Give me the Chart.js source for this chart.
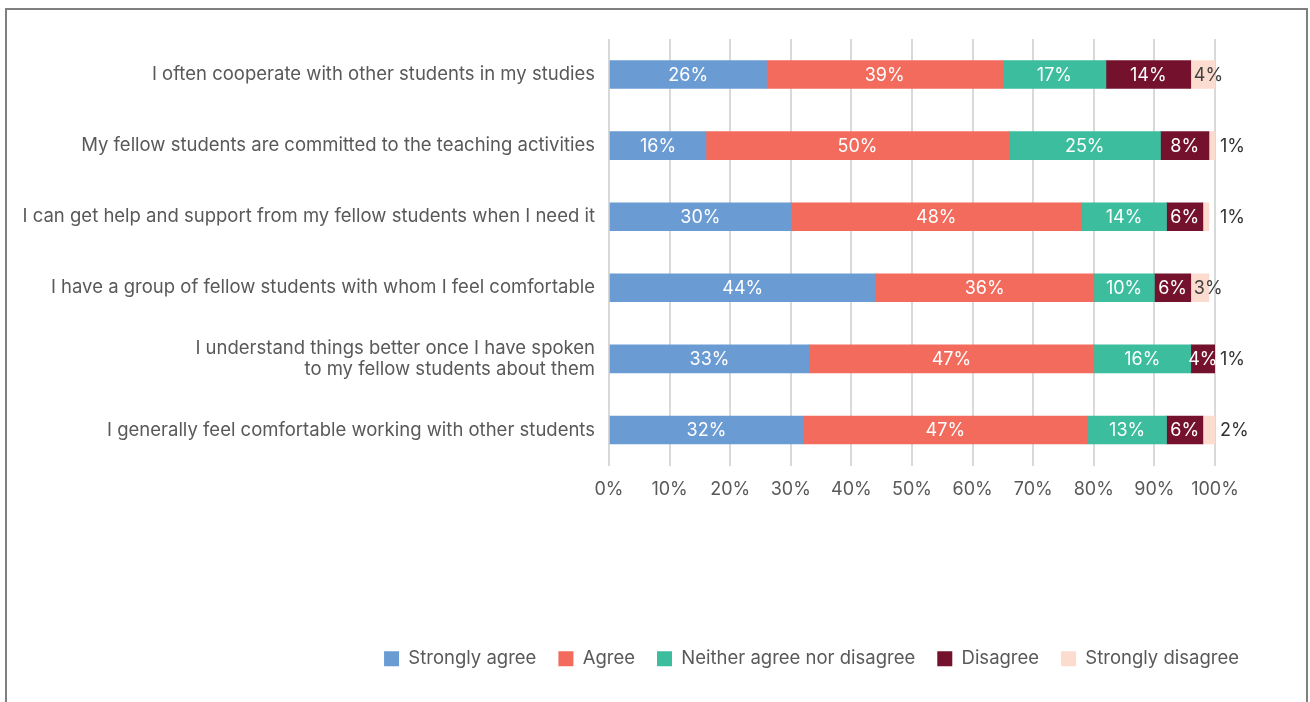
<!DOCTYPE html>
<html>
<head>
<meta charset="utf-8">
<script src="https://cdn.jsdelivr.net/npm/chart.js@4.4.1/dist/chart.umd.min.js"></script>
<style>
  html, body { margin: 0; padding: 0; background: #ffffff; }
  #wrap { position: relative; width: 1310px; height: 702px; overflow: hidden; }
  #wrap canvas { position: absolute; left: 0; top: 0; }
  #frame {
    position: absolute; left: 5px; top: 8px; width: 1299px; height: 720px;
    border: 2px solid #7f7f7f; border-bottom: none; pointer-events: none;
  }
</style>
</head>
<body>
<div id="wrap">
  <canvas id="chart" width="1310" height="702"></canvas>
  <div id="frame"></div>
</div>
<script>
// Survey statements (one bar each)
const statements = [
  'I often cooperate with other students in my studies',
  'My fellow students are committed to the teaching activities',
  'I can get help and support from my fellow students when I need it',
  'I have a group of fellow students with whom I feel comfortable',
  ['I understand things better once I have spoken', 'to my fellow students about them'],
  'I generally feel comfortable working with other students'
];

// Share of answers per statement, in percent
const stronglyAgree    = [26, 16, 30, 44, 33, 32];
const agree            = [39, 50, 48, 36, 47, 47];
const neither          = [17, 25, 14, 10, 16, 13];
const disagree         = [14,  8,  6,  6,  4,  6];
const stronglyDisagree = [ 4,  1,  1,  3,  1,  2];

const seriesNames = ['Strongly agree', 'Agree', 'Neither agree nor disagree', 'Disagree', 'Strongly disagree'];
const xTickValues = [0, 10, 20, 30, 40, 50, 60, 70, 80, 90, 100];

const FONT = 'Inter, "Noto Sans", sans-serif';
const TEXT_GREY = '#595959';

// Percent labels on each segment; tiny end segments get their label past the bar end
const segmentLabels = {
  id: 'segmentLabels',
  afterDatasetsDraw(chart) {
    const ctx = chart.ctx;
    const area = chart.chartArea;
    ctx.save();
    ctx.font = '18px ' + FONT;
    ctx.textBaseline = 'middle';
    chart.data.datasets.forEach((ds, di) => {
      const meta = chart.getDatasetMeta(di);
      if (meta.hidden) return;
      meta.data.forEach((bar, i) => {
        const v = ds.data[i];
        if (!v) return;
        const text = v + '%';
        const last = di === chart.data.datasets.length - 1;
        if (last && v < 3) {
          ctx.fillStyle = '#333333';
          ctx.textAlign = 'left';
          ctx.fillText(text, area.right + 5, bar.y + 1);
        } else if (last) {
          ctx.fillStyle = '#404040';
          ctx.textAlign = 'left';
          ctx.fillText(text, bar.base + 3, bar.y + 1);
        } else {
          ctx.fillStyle = '#ffffff';
          ctx.textAlign = 'center';
          const right = Math.min(bar.x, area.right);
          ctx.fillText(text, (right + bar.base) / 2, bar.y + 1);
        }
      });
    });
    ctx.restore();
  }
};

const colors = ['#6a9bd3', '#f26b5d', '#3bbd9e', '#74122e', '#fcdccf'];
const values = [stronglyAgree, agree, neither, disagree, stronglyDisagree];

new Chart(document.getElementById('chart'), {
  type: 'bar',
  data: {
    labels: statements,
    datasets: seriesNames.map((name, k) => ({
      label: name,
      data: values[k],
      backgroundColor: colors[k],
      borderWidth: 0,
      barThickness: 28
    }))
  },
  options: {
    indexAxis: 'y',
    responsive: false,
    animation: false,
    devicePixelRatio: 1,
    layout: { padding: { left: 10, right: 49, top: 39, bottom: 24 } },
    plugins: {
      tooltip: { enabled: false },
      legend: {
        position: 'bottom',
        align: 'end',
        labels: {
          boxWidth: 15,
          boxHeight: 15,
          padding: 22,
          color: TEXT_GREY,
          font: { family: FONT, size: 18.5 }
        }
      }
    },
    scales: {
      x: {
        stacked: true,
        min: 0,
        max: 100,
        afterBuildTicks: (scale) => { scale.ticks = xTickValues.map(v => ({ value: v })); },
        afterFit: (scale) => { scale.height = 162; scale.paddingRight = 95; },
        grid: { color: '#d9d9d9', lineWidth: 2, drawTicks: false },
        border: { display: false },
        ticks: {
          padding: 13,
          color: TEXT_GREY,
          font: { family: FONT, size: 18 },
          callback: (v) => v + '%'
        }
      },
      y: {
        stacked: true,
        afterFit: (scale) => { scale.width = 599; },
        grid: { display: false, drawTicks: false },
        border: { display: false },
        ticks: {
          padding: 14,
          color: TEXT_GREY,
          font: { family: FONT, size: 18.5, lineHeight: 1.15 }
        }
      }
    }
  },
  plugins: [segmentLabels]
});
</script>
</body>
</html>
